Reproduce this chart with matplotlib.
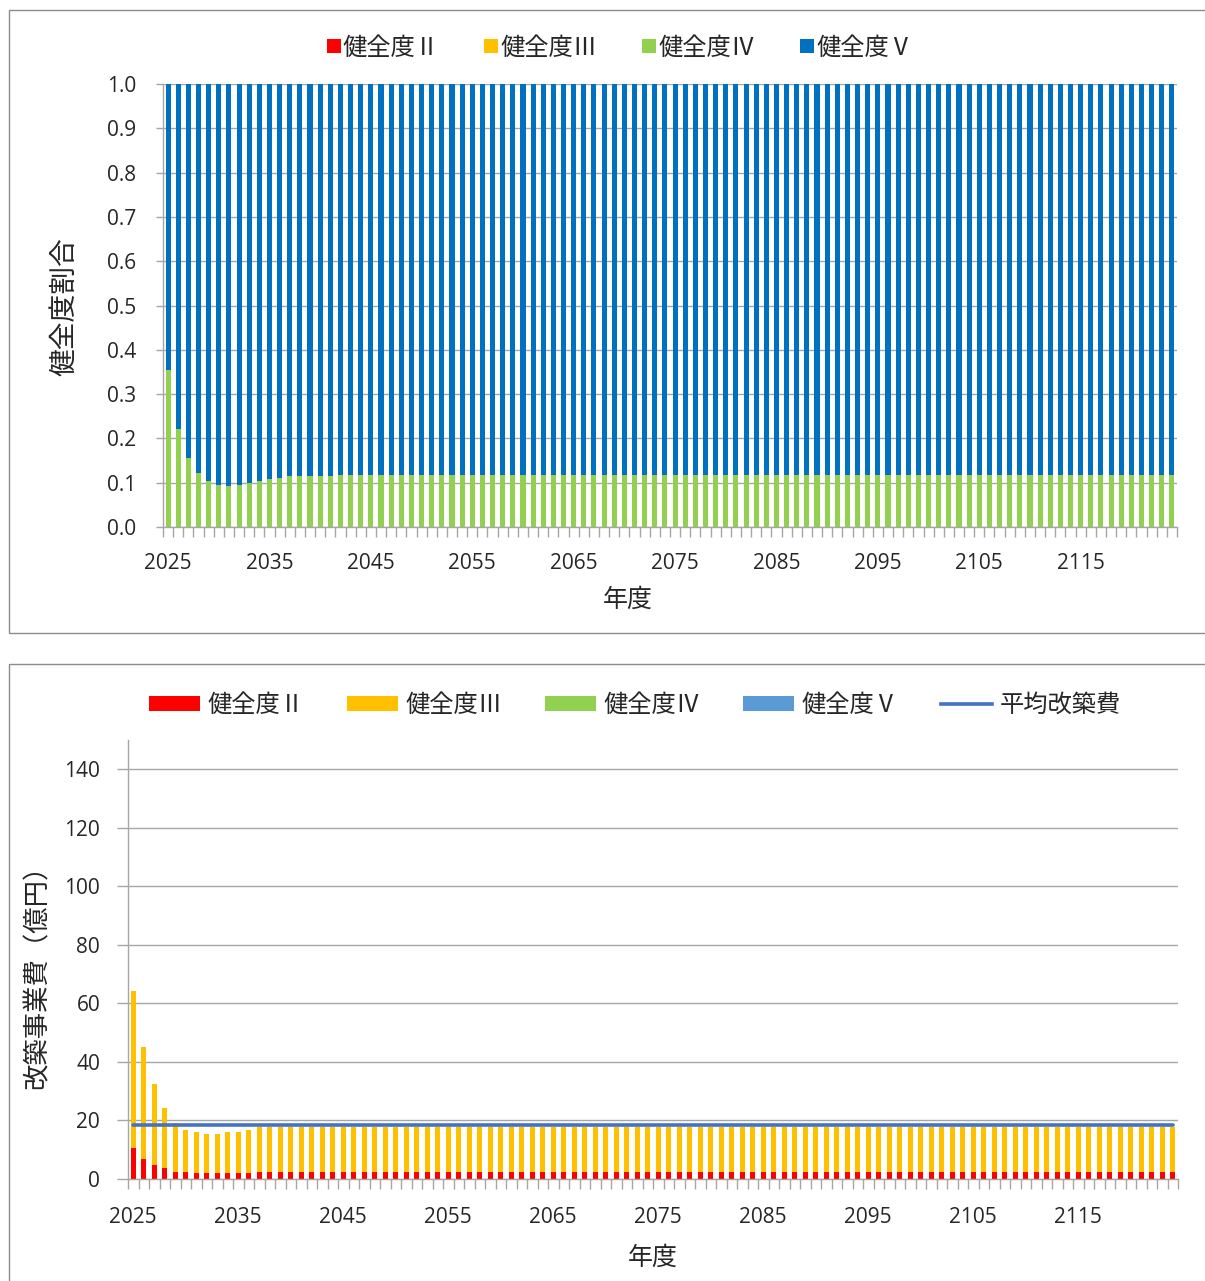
import matplotlib
matplotlib.use("Agg")
import matplotlib.pyplot as plt
from matplotlib.patches import Rectangle, Patch
from matplotlib.lines import Line2D
import numpy as np

plt.rcParams['font.family'] = ['Open Sans', 'Noto Sans CJK JP', 'DejaVu Sans']
CJK = ['Noto Sans CJK JP', 'DejaVu Sans']

# ---- data ----
years = list(range(2025, 2125))
tick_years = [2025, 2035, 2045, 2055, 2065, 2075, 2085, 2095, 2105, 2115]
categories = ['健全度Ⅱ', '健全度Ⅲ', '健全度Ⅳ', '健全度Ⅴ']

# share of each condition grade (upper panel)
share_II = [0.0] * 100
share_III = [0.0] * 100
share_IV = [
    0.354, 0.222, 0.156, 0.121, 0.104, 0.095, 0.093, 0.095, 0.100, 0.104,
    0.108, 0.110, 0.114, 0.114, 0.115, 0.116, 0.116, 0.117, 0.117, 0.117,
    0.117, 0.117, 0.117, 0.117, 0.117, 0.117, 0.117, 0.117, 0.117, 0.117,
    0.117, 0.117, 0.117, 0.117, 0.117, 0.117, 0.117, 0.117, 0.117, 0.117,
    0.117, 0.117, 0.117, 0.117, 0.117, 0.117, 0.117, 0.117, 0.117, 0.117,
    0.117, 0.117, 0.117, 0.117, 0.117, 0.117, 0.117, 0.117, 0.117, 0.117,
    0.117, 0.117, 0.117, 0.117, 0.117, 0.117, 0.117, 0.117, 0.117, 0.117,
    0.117, 0.117, 0.117, 0.117, 0.117, 0.117, 0.117, 0.117, 0.117, 0.117,
    0.117, 0.117, 0.117, 0.117, 0.117, 0.117, 0.117, 0.117, 0.117, 0.117,
    0.117, 0.117, 0.117, 0.117, 0.117, 0.117, 0.117, 0.117, 0.117, 0.117,
]
share_V = [round(1.0 - a - b - c, 3) for a, b, c in zip(share_II, share_III, share_IV)]

# reconstruction cost by grade, 億円 (lower panel)
cost_II = [
    10.6, 7.0, 4.9, 3.6, 2.3, 2.3, 2.0, 2.0, 2.0, 2.0,
    2.0, 2.2, 2.3, 2.3, 2.3, 2.3, 2.3, 2.3, 2.3, 2.3,
    2.3, 2.3, 2.3, 2.3, 2.3, 2.3, 2.3, 2.3, 2.3, 2.3,
    2.3, 2.3, 2.3, 2.3, 2.3, 2.3, 2.3, 2.3, 2.3, 2.3,
    2.3, 2.3, 2.3, 2.3, 2.3, 2.3, 2.3, 2.3, 2.3, 2.3,
    2.3, 2.3, 2.3, 2.3, 2.3, 2.3, 2.3, 2.3, 2.3, 2.3,
    2.3, 2.3, 2.3, 2.3, 2.3, 2.3, 2.3, 2.3, 2.3, 2.3,
    2.3, 2.3, 2.3, 2.3, 2.3, 2.3, 2.3, 2.3, 2.3, 2.3,
    2.3, 2.3, 2.3, 2.3, 2.3, 2.3, 2.3, 2.3, 2.3, 2.3,
    2.3, 2.3, 2.3, 2.3, 2.3, 2.3, 2.3, 2.3, 2.3, 2.3,
]
cost_III = [
    53.6, 38.0, 27.4, 20.6, 16.8, 14.4, 13.9, 13.3, 13.3, 13.9,
    14.2, 14.5, 15.4, 15.5, 15.5, 15.5, 15.5, 15.5, 15.5, 15.5,
    15.5, 15.5, 15.5, 15.5, 15.5, 15.5, 15.5, 15.5, 15.5, 15.5,
    15.5, 15.5, 15.5, 15.5, 15.5, 15.5, 15.5, 15.5, 15.5, 15.5,
    15.5, 15.5, 15.5, 15.5, 15.5, 15.5, 15.5, 15.5, 15.5, 15.5,
    15.5, 15.5, 15.5, 15.5, 15.5, 15.5, 15.5, 15.5, 15.5, 15.5,
    15.5, 15.5, 15.5, 15.5, 15.5, 15.5, 15.5, 15.5, 15.5, 15.5,
    15.5, 15.5, 15.5, 15.5, 15.5, 15.5, 15.5, 15.5, 15.5, 15.5,
    15.5, 15.5, 15.5, 15.5, 15.5, 15.5, 15.5, 15.5, 15.5, 15.5,
    15.5, 15.5, 15.5, 15.5, 15.5, 15.5, 15.5, 15.5, 15.5, 15.5,
]
cost_IV = [0.0] * 100
cost_V = [0.0] * 100
avg_cost = 18.3

# ---- styling ----
C_II, C_III, C_IV, C_V, C_V2, C_AVG = '#FF0000', '#FFC000', '#92D050', '#0070C0', '#5B9BD5', '#4472C4'
GRID = '#A6A6A6'
SPINE = '#A6A6A6'
TXT = '#262626'

W, H = 1205, 1281
fig = plt.figure(figsize=(W / 100, H / 100), dpi=100)


def fx(px):
    return px / W


def fy(py):
    return 1 - py / H


# panel frames
fig.patches.append(Rectangle((fx(9), fy(633)), fx(1205) - fx(9) + 0.01, fy(10) - fy(633),
                             transform=fig.transFigure, fill=False, edgecolor='#8C8C8C', lw=1.0))
fig.patches.append(Rectangle((fx(9), fy(1290)), 1.0, fy(664) - fy(1290),
                             transform=fig.transFigure, fill=False, edgecolor='#8C8C8C', lw=1.0))

x = np.array(years)
bounds = np.arange(years[0] - 0.5, years[-1] + 1.0, 1.0)


def style_axes(ax, xpad):
    for s in ['top', 'right']:
        ax.spines[s].set_visible(False)
    for s in ['left', 'bottom']:
        ax.spines[s].set_color(SPINE)
        ax.spines[s].set_linewidth(1.0)
    ax.yaxis.grid(True, color=GRID, lw=1.0)
    ax.set_axisbelow(True)
    ax.set_xlim(years[0] - 0.5, years[-1] + 0.5)
    ax.set_xticks(bounds)
    ax.set_xticklabels([])
    ax.set_xticks(tick_years, minor=True)
    ax.set_xticklabels([str(t) for t in tick_years], minor=True)
    ax.tick_params(axis='x', which='major', length=7, color=SPINE, width=1.0)
    ax.tick_params(axis='x', which='minor', length=0, pad=xpad, labelsize=15, labelcolor=TXT)
    ax.tick_params(axis='y', length=5, color=SPINE, width=1.0, labelsize=15, labelcolor=TXT)


# ---- upper panel: grade shares ----
ax1 = fig.add_axes([fx(163), fy(527), fx(1177) - fx(163), fy(84) - fy(527)])
bw = 0.5
b = np.zeros(len(years))
for vals, col in zip([share_II, share_III, share_IV, share_V], [C_II, C_III, C_IV, C_V]):
    ax1.bar(x, vals, bottom=b, width=bw, color=col, linewidth=0)
    b = b + np.array(vals)
ax1.set_ylim(0, 1.0)
ax1.set_yticks(np.arange(0, 1.01, 0.1))
ax1.set_yticklabels([f'{v:.1f}' for v in np.arange(0, 1.01, 0.1)])
style_axes(ax1, 19)
ax1.tick_params(axis='y', pad=14)
ax1.set_xlabel('年度', fontsize=18, color=TXT)
ax1.xaxis.set_label_coords((628 - 163) / (1177 - 163), -(600 - 527) / (527 - 84), transform=ax1.transAxes)
ax1.xaxis.label.set_va('center')
ax1.set_ylabel('健全度割合', fontsize=20, color=TXT)
ax1.yaxis.set_label_coords(-(163 - 65) / (1177 - 163), (527 - 307) / (527 - 84), transform=ax1.transAxes)
ax1.yaxis.label.set_va('center')

h1 = [Line2D([], [], marker='s', linestyle='none', markersize=9.5, color=c, markeredgewidth=0)
      for c in [C_II, C_III, C_IV, C_V]]
fig.legend(h1, categories, loc='center', bbox_to_anchor=(fx(620), fy(48)), ncol=4,
           frameon=False, prop={'family': CJK, 'size': 17.5}, handletextpad=0.1,
           columnspacing=1.85, labelcolor=TXT, handlelength=0.55)

# ---- lower panel: reconstruction cost ----
ax2 = fig.add_axes([fx(128), fy(1179), fx(1178) - fx(128), fy(740) - fy(1179)])
b = np.zeros(len(years))
for vals, col in zip([cost_II, cost_III, cost_IV, cost_V], [C_II, C_III, C_IV, C_V2]):
    ax2.bar(x, vals, bottom=b, width=bw, color=col, linewidth=0)
    b = b + np.array(vals)
ax2.plot(x, [avg_cost] * len(years), color=C_AVG, lw=2.6, solid_capstyle='round')
ax2.set_ylim(0, 150)
ax2.set_yticks(np.arange(0, 141, 20))
style_axes(ax2, 20)
ax2.tick_params(axis='y', length=8, pad=12)
ax2.set_xlabel('年度', fontsize=18, color=TXT)
ax2.xaxis.set_label_coords((653 - 128) / (1178 - 128), -(1258 - 1179) / (1179 - 740), transform=ax2.transAxes)
ax2.xaxis.label.set_va('center')
ax2.set_ylabel('改築事業費（億円）', fontsize=19, color=TXT)
ax2.yaxis.set_label_coords(-(128 - 38) / (1178 - 128), (1179 - 970) / (1179 - 740), transform=ax2.transAxes)
ax2.yaxis.label.set_va('center')

h2 = [Patch(facecolor=c, edgecolor='none') for c in [C_II, C_III, C_IV, C_V2]]
h2.append(Line2D([], [], color=C_AVG, lw=2.6))
fig.legend(h2, categories + ['平均改築費'], loc='center', bbox_to_anchor=(fx(635), fy(705)),
           ncol=5, frameon=False, prop={'family': CJK, 'size': 17.5}, handletextpad=0.3,
           columnspacing=1.75, labelcolor=TXT, handlelength=2.1, handleheight=0.6)

fig.savefig('out.png', dpi=100, facecolor='white')
